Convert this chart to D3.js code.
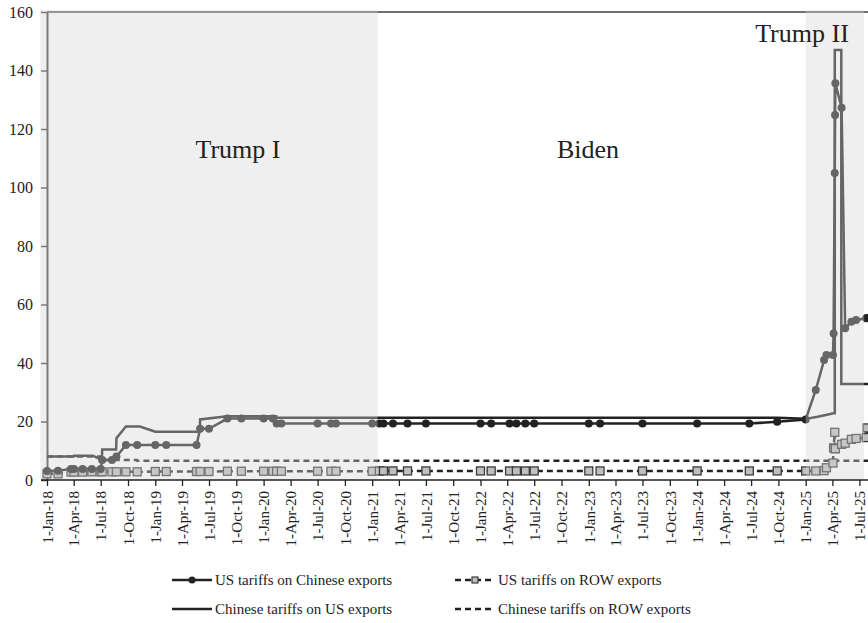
<!DOCTYPE html>
<html>
<head>
<meta charset="utf-8">
<script src="https://cdn.jsdelivr.net/npm/d3@7"></script>
<style>
  body { margin: 0; background: #fff; }
  svg { display: block; }
  text { font-family: "Liberation Serif", "Times New Roman", serif; fill: #222; }
</style>
</head>
<body>
<svg id="chart" width="868" height="623"></svg>
<script>
// US tariff events (shared dates for the two US series, one marker per event)
const usDates = [
  "2018-01-01","2018-02-07","2018-03-23","2018-04-02","2018-05-01","2018-06-01","2018-07-01",
  "2018-07-06","2018-08-08","2018-08-23","2018-09-24","2018-11-01","2019-01-01","2019-02-07",
  "2019-05-20","2019-06-01","2019-07-01","2019-09-01","2019-10-18","2020-01-01","2020-02-01",
  "2020-02-14","2020-03-01","2020-07-01","2020-08-15","2020-09-01","2021-01-01","2021-01-25",
  "2021-02-08","2021-03-12","2021-04-30","2021-07-01","2022-01-01","2022-02-06","2022-04-09",
  "2022-05-02","2022-06-01","2022-07-01","2023-01-01","2023-02-08","2023-07-01","2024-01-01",
  "2024-06-25","2024-09-27","2025-01-01","2025-02-04","2025-03-04","2025-03-12","2025-04-03",
  "2025-04-05","2025-04-09","2025-04-10","2025-04-11","2025-05-02","2025-05-14","2025-06-04",
  "2025-06-20","2025-07-24","2025-07-27"
];
const usOnChina = [
  3.1, 3.2, 3.8, 3.8, 3.8, 3.8, 3.8,
  6.8, 6.8, 8.0, 12.0, 12.0, 12.0, 12.0,
  12.0, 17.5, 17.5, 21.0, 21.0, 21.0, 21.0,
  19.3, 19.3, 19.3, 19.3, 19.3, 19.3, 19.3,
  19.3, 19.3, 19.3, 19.3, 19.3, 19.3, 19.3,
  19.3, 19.3, 19.3, 19.3, 19.3, 19.3, 19.3,
  19.3, 19.9, 20.7, 30.8, 41.0, 42.7, 42.7,
  50.1, 105.0, 124.8, 135.6, 127.3, 51.9, 54.1,
  54.7, 55.3, 55.4
];
const usOnRow = [
  2.1, 2.1, 2.7, 2.7, 2.7, 2.8, 2.8,
  2.8, 2.8, 2.8, 2.8, 2.8, 2.9, 2.9,
  2.9, 2.9, 2.9, 3.0, 3.0, 3.0, 3.0,
  3.0, 3.0, 3.0, 3.0, 3.0, 3.0, 3.1,
  3.1, 3.1, 3.1, 3.1, 3.1, 3.1, 3.1,
  3.1, 3.1, 3.1, 3.1, 3.1, 3.1, 3.1,
  3.1, 3.1, 3.1, 3.1, 3.2, 4.2, 5.8,
  11.0, 16.3, 10.7, 10.7, 12.2, 12.6, 13.9,
  14.2, 14.5, 17.8
];

// Chinese tariffs on US exports (step changes drawn as paired points)
const cnDates = [
  "2018-01-01","2018-04-01","2018-04-02","2018-06-05","2018-07-05","2018-07-06","2018-08-22",
  "2018-08-23","2018-09-24","2018-11-10","2019-01-01","2019-05-31","2019-06-01","2019-09-01",
  "2020-02-13","2020-02-14","2024-09-27","2025-01-01","2025-02-10","2025-03-10","2025-04-04",
  "2025-04-09","2025-04-09","2025-05-01","2025-05-01","2025-08-31"
];
const cnOnUs = [
  8.0, 8.0, 8.3, 8.3, 6.8, 10.4, 10.4,
  14.3, 18.3, 18.3, 16.5, 16.5, 20.7, 21.8,
  21.8, 21.3, 21.3, 20.9, 21.6, 22.2, 22.8,
  22.8, 147.0, 147.0, 32.8, 32.8
];

// Chinese tariffs on rest-of-world exports
const cnRowDates = ["2018-01-01","2018-06-30","2018-07-01","2018-10-31","2018-11-01","2025-08-31"];
const cnOnRow = [8.0, 8.0, 6.8, 6.8, 6.6, 6.6];

// Administrations (shaded periods)
const periodNames = ["Trump I", "Biden", "Trump II"];
const shadeStart = ["2017-12-09", "2025-01-01"];
const shadeEnd = ["2021-01-19", "2025-07-17"];

const yTicks = [0, 20, 40, 60, 80, 100, 120, 140, 160];
const legendLabels = [
  "US tariffs on Chinese exports",
  "US tariffs on ROW exports",
  "Chinese tariffs on US exports",
  "Chinese tariffs on ROW exports"
];

const parse = d3.utcParse("%Y-%m-%d");
const svg = d3.select("#chart");

const x = d3.scaleUtc()
  .domain([parse("2018-01-01"), parse("2025-08-31")])
  .range([47, 877.5]);
const y = d3.scaleLinear().domain([0, 160]).range([480, 12]);

const zip = (ds, vs) => ds.map((d, i) => [parse(d), vs[i]]);
const usChina = zip(usDates, usOnChina);
const usRow = zip(usDates, usOnRow);
const cnUs = zip(cnDates, cnOnUs);
const cnRow = zip(cnRowDates, cnOnRow);

const line = d3.line().x(d => x(d[0])).y(d => y(d[1]));
const INK = "#222";
const SERIF = '"Liberation Serif", "Times New Roman", serif';

// top frame line
svg.append("line")
  .attr("x1", 47).attr("x2", 868).attr("y1", 12).attr("y2", 12)
  .attr("stroke", "#6e6e6e").attr("stroke-width", 2);

// y axis
const yAxis = svg.append("g").attr("transform", "translate(47,0)")
  .call(d3.axisLeft(y).tickValues(yTicks).tickSize(6).tickPadding(8).tickSizeOuter(0));
yAxis.attr("font-family", null).attr("font-size", null);
yAxis.select(".domain").attr("stroke", "#444").attr("stroke-width", 2);
yAxis.selectAll(".tick line").attr("stroke", "#444").attr("stroke-width", 1.5);
yAxis.selectAll("text").style("font-size", "16px").attr("fill", INK)
  .style("font-family", SERIF);

const plot = svg.append("g");

// dashed series
plot.append("path").datum(cnRow).attr("d", line)
  .attr("fill", "none").attr("stroke", INK).attr("stroke-width", 2.5)
  .attr("stroke-dasharray", "6,4");
plot.append("path").datum(usRow).attr("d", line)
  .attr("fill", "none").attr("stroke", INK).attr("stroke-width", 2.5)
  .attr("stroke-dasharray", "6,4");

// solid series
plot.append("path").datum(cnUs).attr("d", line)
  .attr("fill", "none").attr("stroke", INK).attr("stroke-width", 2.5)
  .attr("stroke-linejoin", "miter");
plot.append("path").datum(usChina).attr("d", line)
  .attr("fill", "none").attr("stroke", INK).attr("stroke-width", 2.5);

// markers
plot.selectAll("rect.sq").data(usRow).join("rect").attr("class", "sq")
  .attr("x", d => x(d[0]) - 4).attr("y", d => y(d[1]) - 4)
  .attr("width", 8).attr("height", 8)
  .attr("fill", "#bfbfbf").attr("stroke", "#3a3a3a").attr("stroke-width", 1.3);
plot.selectAll("circle.dot").data(usChina).join("circle").attr("class", "dot")
  .attr("cx", d => x(d[0])).attr("cy", d => y(d[1])).attr("r", 4)
  .attr("fill", INK);

// translucent shading over the two Trump administrations
svg.selectAll("rect.shade").data(shadeStart.map((s, i) => [parse(s), parse(shadeEnd[i])]))
  .join("rect").attr("class", "shade")
  .attr("x", d => x(d[0])).attr("width", d => x(d[1]) - x(d[0]))
  .attr("y", 10).attr("height", 470)
  .attr("fill", "#d6d6d6").attr("fill-opacity", 0.38);

// x axis with quarterly date labels
const xTicks = d3.utcMonth.every(3).range(parse("2018-01-01"), parse("2025-07-02"));
const xAxis = svg.append("g").attr("transform", "translate(0,480)")
  .call(d3.axisBottom(x).tickValues(xTicks).tickFormat(d3.utcFormat("%-d-%b-%y"))
    .tickSize(6).tickSizeOuter(0));
xAxis.attr("font-family", null).attr("font-size", null);
xAxis.select(".domain").attr("d", "M41,0H868").attr("stroke", INK).attr("stroke-width", 1.5);
xAxis.selectAll(".tick line").attr("stroke", INK).attr("stroke-width", 1.3);
xAxis.selectAll("text")
  .attr("transform", "rotate(-90)")
  .attr("x", -11).attr("y", 0).attr("dy", "0.35em")
  .attr("text-anchor", "end")
  .attr("fill", INK)
  .style("font-size", "15px")
  .style("font-family", SERIF);

// period labels
const periodPos = [[238, 158], [588, 158], [802, 42]];
svg.selectAll("text.period").data(periodNames).join("text").attr("class", "period")
  .attr("x", (d, i) => periodPos[i][0]).attr("y", (d, i) => periodPos[i][1])
  .attr("text-anchor", "middle").style("font-size", "26px")
  .text(d => d);

// legend
const legendItems = [
  { label: legendLabels[0], x: 172, y: 580, dash: null, marker: "circle" },
  { label: legendLabels[1], x: 455, y: 580, dash: "6,4", marker: "square" },
  { label: legendLabels[2], x: 172, y: 609, dash: null, marker: null },
  { label: legendLabels[3], x: 455, y: 609, dash: "6,4", marker: null }
];
const lg = svg.selectAll("g.legend").data(legendItems).join("g").attr("class", "legend")
  .attr("transform", d => `translate(${d.x},${d.y})`);
lg.append("line").attr("x1", 0).attr("x2", 40).attr("y1", 0).attr("y2", 0)
  .attr("stroke", INK).attr("stroke-width", 2.5)
  .attr("stroke-dasharray", d => d.dash);
lg.filter(d => d.marker === "circle").append("circle")
  .attr("cx", 20).attr("cy", 0).attr("r", 3.5).attr("fill", INK);
lg.filter(d => d.marker === "square").append("rect")
  .attr("x", 17).attr("y", -3).attr("width", 6).attr("height", 6)
  .attr("fill", "#bfbfbf").attr("stroke", "#3a3a3a").attr("stroke-width", 1.2);
lg.append("text").attr("x", 43).attr("y", 0).attr("dy", "0.35em")
  .style("font-size", "15px").text(d => d.label);
</script>
</body>
</html>
